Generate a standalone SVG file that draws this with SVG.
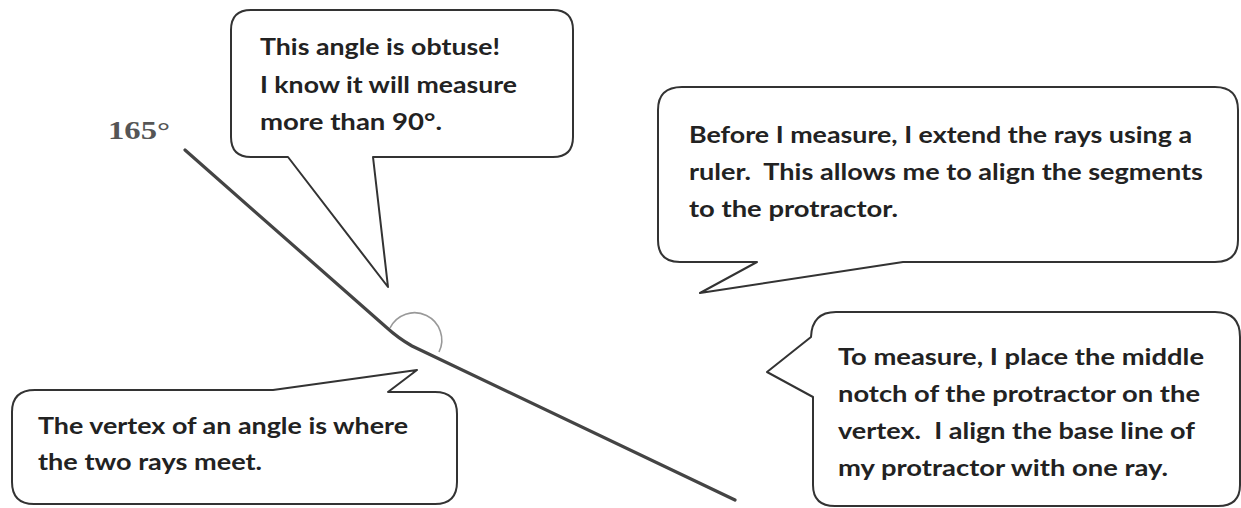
<svg xmlns="http://www.w3.org/2000/svg" width="1241" height="508" viewBox="0 0 1241 508">
<style>
.bubble{fill:#fff;stroke:#333;stroke-width:2;stroke-linejoin:round}
.t{font-family:Lato,"Open Sans","Liberation Sans",sans-serif;font-weight:bold;font-size:22px;fill:#222;white-space:pre}
.ray{fill:none;stroke:#444;stroke-width:3.2;stroke-linejoin:round;stroke-linecap:round}
.arc{fill:none;stroke:#999;stroke-width:1.6}
</style>
<rect width="1241" height="508" fill="#fff"/>
<g id="connectors">
<path class="ray" d="M185,150 L386,327 Q398,338 412,346 L735,500"/>
<path class="arc" d="M390,328 A27,27 0 1,1 439,352"/>
</g>
<g id="label165">
<text x="108" y="139" font-family="'Liberation Serif',serif" font-weight="bold" font-size="25" fill="#555" textLength="62" lengthAdjust="spacingAndGlyphs">165°</text>
</g>
<g id="obtuse">
<path class="bubble" d="M251,10 H553 Q573,10 573,30 V137 Q573,157 553,157 H373 L388,287 L288,157 H251 Q231,157 231,137 V30 Q231,10 251,10 Z"/>
<text class="t" x="260" y="55" textLength="240" lengthAdjust="spacingAndGlyphs">This angle is obtuse!</text>
<text class="t" x="260" y="93" textLength="257" lengthAdjust="spacingAndGlyphs">I know it will measure</text>
<text class="t" x="260" y="130" textLength="182" lengthAdjust="spacingAndGlyphs">more than 90°.</text>
</g>
<g id="extend">
<path class="bubble" d="M682,87 H1215 Q1238,87 1238,110 V240 Q1238,262 1215,262 H903 L700,293 L757,262 H680 Q658,262 658,240 V110 Q658,87 682,87 Z"/>
<text class="t" x="689" y="143" textLength="503" lengthAdjust="spacingAndGlyphs">Before I measure, I extend the rays using a</text>
<text class="t" x="689" y="180" textLength="514" lengthAdjust="spacingAndGlyphs">ruler.  This allows me to align the segments</text>
<text class="t" x="689" y="217" textLength="209" lengthAdjust="spacingAndGlyphs">to the protractor.</text>
</g>
<g id="vertex">
<path class="bubble" d="M35,390 H273 L417,370 L388,392 H435 Q457,392 457,414 V482 Q457,504 435,504 H34 Q12,504 12,482 V412 Q12,390 35,390 Z"/>
<text class="t" x="38" y="434" textLength="370" lengthAdjust="spacingAndGlyphs">The vertex of an angle is where</text>
<text class="t" x="38" y="470" textLength="224" lengthAdjust="spacingAndGlyphs">the two rays meet.</text>
</g>
<g id="measure">
<path class="bubble" d="M836,312 H1215 Q1240,312 1240,337 V485 Q1240,506 1218,506 H835 Q813,506 813,485 V397 L767,372 L811,337 Q812,312 836,312 Z"/>
<text class="t" x="838" y="365" textLength="366" lengthAdjust="spacingAndGlyphs">To measure, I place the middle</text>
<text class="t" x="838" y="402" textLength="362" lengthAdjust="spacingAndGlyphs">notch of the protractor on the</text>
<text class="t" x="838" y="439" textLength="357" lengthAdjust="spacingAndGlyphs">vertex.  I align the base line of</text>
<text class="t" x="838" y="476" textLength="330" lengthAdjust="spacingAndGlyphs">my protractor with one ray.</text>
</g>
</svg>
